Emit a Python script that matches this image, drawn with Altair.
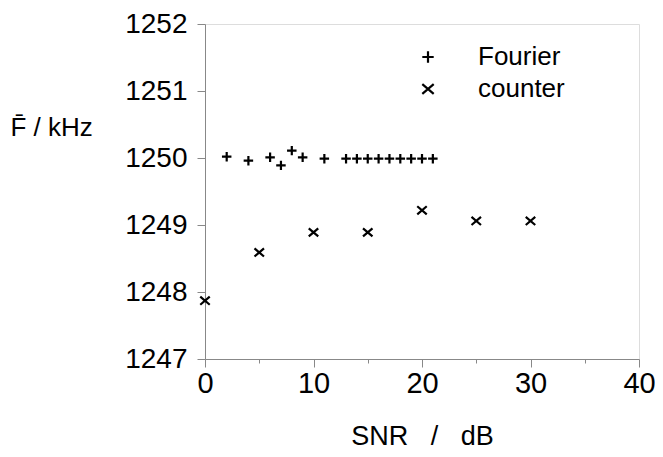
import altair as alt
import pandas as pd

# --- data ---
fourier_snr = [2, 4, 6, 7, 8, 9, 11, 13, 14, 15, 16, 17, 18, 19, 20, 21]
fourier_f = [1250.02, 1249.96, 1250.01, 1249.89, 1250.11, 1250.01, 1249.99,
             1249.99, 1249.99, 1249.99, 1249.99, 1249.99, 1249.99, 1249.99,
             1249.99, 1249.99]
counter_snr = [0, 5, 10, 15, 20, 25, 30]
counter_f = [1247.87, 1248.59, 1248.89, 1248.89, 1249.22, 1249.06, 1249.06]
series_names = ["Fourier", "counter"]
x_ticks = [0, 5, 10, 15, 20, 25, 30, 35, 40]
y_ticks = [1247, 1248, 1249, 1250, 1251, 1252]

rows = [{"snr": s, "f": f, "series": series_names[0]} for s, f in zip(fourier_snr, fourier_f)]
rows += [{"snr": s, "f": f, "series": series_names[1]} for s, f in zip(counter_snr, counter_f)]
df = pd.DataFrame(rows)

PLUS = "M-1,0L1,0M0,-1L0,1"
CROSS = "M-1,-0.85L1,0.85M-1,0.85L1,-0.85"
FONT = "Liberation Sans"
NB = "\u00a0"

chart = alt.Chart(df).mark_point(
    filled=False, color="black", strokeWidth=2.2, size=90, opacity=1
).encode(
    x=alt.X("snr:Q",
            scale=alt.Scale(domain=[0, 40], nice=False, zero=False),
            axis=alt.Axis(
                title="SNR" + NB * 3 + "/" + NB * 3 + "dB",
                values=x_ticks,
                labelExpr="datum.value % 10 === 0 ? datum.label : ''",
                tickSize={"condition": {"test": "datum.value % 10 === 0", "value": 8}, "value": 4},
                labelPadding=2,
                labelFlush=False,
                labelFontSize=29,
                titleFontSize=27,
                titleFontWeight="normal",
                titleBaseline="alphabetic",
                titleY=85,
                grid=False,
            )),
    y=alt.Y("f:Q",
            scale=alt.Scale(domain=[1247, 1252], nice=False, zero=False),
            axis=alt.Axis(
                title="F\u0304 / kHz",
                values=y_ticks,
                format="d",
                tickSize=8,
                labelPadding=10,
                labelFlush=False,
                labelFontSize=28,
                labelBaseline="middle",
                titleFontSize=26,
                titleFontWeight="normal",
                titleAngle=0,
                titleAlign="left",
                titleBaseline="alphabetic",
                titleX=-195,
                titleY=111,
                grid=False,
            )),
    shape=alt.Shape("series:N",
                    scale=alt.Scale(domain=series_names, range=[PLUS, CROSS]),
                    legend=alt.Legend(
                        title=None,
                        orient="none",
                        legendX=210,
                        legendY=20,
                        padding=0,
                        symbolSize=130,
                        symbolStrokeWidth=2.2,
                        symbolStrokeColor="black",
                        symbolFillColor="transparent",
                        labelFontSize=26,
                        labelOffset=37,
                        rowPadding=6,
                        labelFont=FONT,
                    )),
).properties(
    width=434,
    height=335,
    autosize=alt.AutoSizeParams(type="none"),
    padding={"left": 197, "top": 16, "right": 16, "bottom": 90},
).configure_view(
    stroke="black", strokeWidth=2
).configure_axis(
    domainColor="black", domainWidth=2, tickColor="black", tickWidth=2,
    labelColor="black", titleColor="black", labelFont=FONT, titleFont=FONT,
    titleFontWeight="normal",
).configure_legend(
    labelColor="black"
).configure(background="white")

chart.save("out.html", embed_options={"renderer": "svg", "actions": False})
